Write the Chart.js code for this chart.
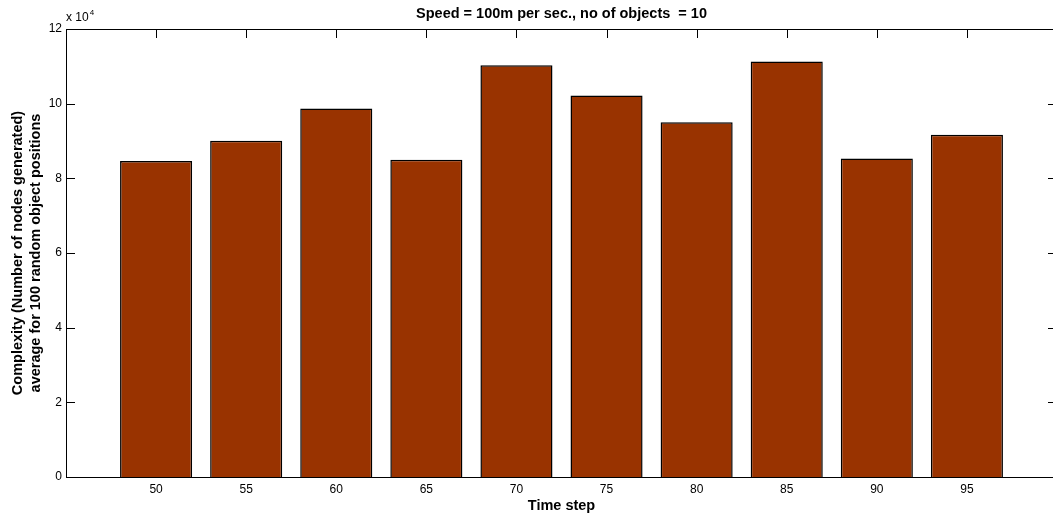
<!DOCTYPE html>
<html>
<head>
<meta charset="utf-8">
<script src="https://cdn.jsdelivr.net/npm/chart.js@4.4.1/dist/chart.umd.min.js"></script>
<style>
    html, body { margin: 0; padding: 0; background: #fff; overflow: hidden; }
    #wrap { width: 1060px; height: 515px; }
</style>
</head>
<body>
<div id="wrap"><canvas id="chart"></canvas></div>
<script>
const timeSteps = [50, 55, 60, 65, 70, 75, 80, 85, 90, 95];
const complexity = [84650, 90100, 98700, 85000, 110300, 102200, 95000, 111300, 85300, 91700];
const yTicks = [0, 20000, 40000, 60000, 80000, 100000, 120000];

const chartTitle = 'Speed = 100m per sec., no of objects  = 10';
const xTitle = 'Time step';
const yTitle = ['Complexity (Number of nodes generated)', 'average for 100 random object positions'];

const FONT = '"Liberation Sans", Arial, Helvetica, sans-serif';
const TICK_LEN = 9;

// box, inward ticks on all four sides, title and the x10^4 multiplier
const matlabAxes = {
    id: 'matlabAxes',
    beforeDatasetsDraw(chart) {
        const { ctx, chartArea: a, scales: { x, y } } = chart;
        ctx.save();
        ctx.strokeStyle = '#000';
        ctx.lineWidth = 1;
        ctx.beginPath();
        for (const v of timeSteps) {
            const px = Math.round(x.getPixelForValue(v)) + 0.5;
            ctx.moveTo(px, a.bottom); ctx.lineTo(px, a.bottom - TICK_LEN);
            ctx.moveTo(px, a.top); ctx.lineTo(px, a.top + TICK_LEN);
        }
        for (const v of yTicks) {
            const py = Math.round(y.getPixelForValue(v)) + 0.5;
            ctx.moveTo(a.left, py); ctx.lineTo(a.left + TICK_LEN, py);
            ctx.moveTo(a.right, py); ctx.lineTo(a.right - TICK_LEN, py);
        }
        ctx.stroke();
        ctx.restore();
    },
    afterDatasetsDraw(chart) {
        const { ctx, chartArea: a } = chart;
        ctx.save();
        ctx.strokeStyle = '#000';
        ctx.lineWidth = 1;
        ctx.strokeRect(Math.round(a.left) + 0.5, Math.round(a.top) + 0.5,
            Math.round(a.right - a.left), Math.round(a.bottom - a.top));
        ctx.restore();
    },
    afterDraw(chart) {
        const { ctx, chartArea: a } = chart;
        ctx.save();
        ctx.fillStyle = '#000';
        ctx.textBaseline = 'middle';
        ctx.textAlign = 'center';
        ctx.font = `bold 14.5px ${FONT}`;
        ctx.fillText(chartTitle, (a.left + a.right) / 2, 14);

        ctx.textAlign = 'left';
        ctx.font = `12px ${FONT}`;
        ctx.fillText('x 10', a.left, 18);
        const w = ctx.measureText('x 10').width;
        ctx.font = `8px ${FONT}`;
        ctx.fillText('4', a.left + w + 1, 13);
        ctx.restore();
    }
};

new Chart(document.getElementById('chart'), {
    type: 'bar',
    data: {
        datasets: [{
            data: timeSteps.map((t, i) => ({ x: t, y: complexity[i] })),
            backgroundColor: '#993300',
            borderColor: '#000',
            borderWidth: 1.5,
            categoryPercentage: 1,
            barPercentage: 0.8
        }]
    },
    options: {
        responsive: true,
        maintainAspectRatio: false,
        animation: false,
        layout: { padding: { top: 29, right: 3, left: 0, bottom: 0 } },
        plugins: {
            legend: { display: false },
            tooltip: { enabled: false },
            title: { display: false }
        },
        scales: {
            x: {
                type: 'linear',
                offset: false,
                min: 45,
                max: 100,
                afterBuildTicks: s => { s.ticks = timeSteps.map(v => ({ value: v })); },
                afterFit: s => { s.height = 38; },
                grid: { display: false, drawTicks: false },
                border: { display: false },
                ticks: {
                    color: '#000',
                    font: { family: FONT, size: 12 },
                    padding: 5,
                    maxRotation: 0,
                    autoSkip: false
                },
                title: {
                    display: true,
                    text: xTitle,
                    color: '#000',
                    font: { family: FONT, size: 14.5, weight: 'bold' },
                    padding: { top: 0, bottom: 0 }
                }
            },
            y: {
                min: 0,
                max: 120000,
                afterBuildTicks: s => { s.ticks = yTicks.map(v => ({ value: v })); },
                afterFit: s => { s.width = 66; },
                grid: { display: false, drawTicks: false },
                border: { display: false },
                ticks: {
                    color: '#000',
                    font: { family: FONT, size: 12 },
                    padding: 4,
                    callback: v => v / 1e4
                },
                title: {
                    display: true,
                    text: yTitle,
                    color: '#000',
                    font: { family: FONT, size: 14.5, weight: 'bold', lineHeight: 18 / 14.5 },
                    padding: { top: 9, bottom: 0 }
                }
            }
        }
    },
    plugins: [matlabAxes]
});
</script>
</body>
</html>
